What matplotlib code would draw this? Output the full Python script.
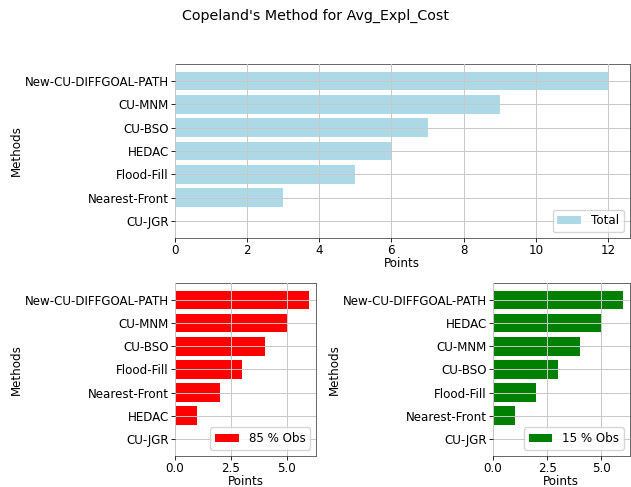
import matplotlib
matplotlib.use("Agg")
import matplotlib.pyplot as plt

# Copeland points per method
total_methods = ["New-CU-DIFFGOAL-PATH", "CU-MNM", "CU-BSO", "HEDAC",
                 "Flood-Fill", "Nearest-Front", "CU-JGR"]
total_points = [12, 9, 7, 6, 5, 3, 0]

obs85_methods = ["New-CU-DIFFGOAL-PATH", "CU-MNM", "CU-BSO", "Flood-Fill",
                 "Nearest-Front", "HEDAC", "CU-JGR"]
obs85_points = [6, 5, 4, 3, 2, 1, 0]

obs15_methods = ["New-CU-DIFFGOAL-PATH", "HEDAC", "CU-MNM", "CU-BSO",
                 "Flood-Fill", "Nearest-Front", "CU-JGR"]
obs15_points = [6, 5, 4, 3, 2, 1, 0]

plt.rcParams["font.size"] = 8.6

fig = plt.figure(figsize=(6.31, 4.87), dpi=100)
fig.suptitle("Copeland's Method for Avg_Expl_Cost", fontsize=10.3, y=0.982)

ax_top = fig.add_axes([0.277, 0.511, 0.721, 0.358])
ax_85 = fig.add_axes([0.277, 0.064, 0.224, 0.355])
ax_15 = fig.add_axes([0.781, 0.064, 0.217, 0.355])


def draw_panel(ax, methods, points, color, label):
    ax.barh(methods[::-1], points[::-1], color=color, label=label)
    ax.set_xlabel("Points", labelpad=0)
    ax.set_ylabel("Methods", labelpad=1.5)
    ax.grid(True, color="#c8c8c8", linewidth=0.7)
    ax.set_axisbelow(False)
    ax.tick_params(length=3, width=0.6, pad=1.2)
    ax.legend(loc="lower right")
    for s in ax.spines.values():
        s.set_color("#666666")
        s.set_linewidth(0.7)


draw_panel(ax_top, total_methods, total_points, "lightblue", "Total")
draw_panel(ax_85, obs85_methods, obs85_points, "red", "85 % Obs")
draw_panel(ax_15, obs15_methods, obs15_points, "green", "15 % Obs")

fig.savefig("out.png", dpi=100)
